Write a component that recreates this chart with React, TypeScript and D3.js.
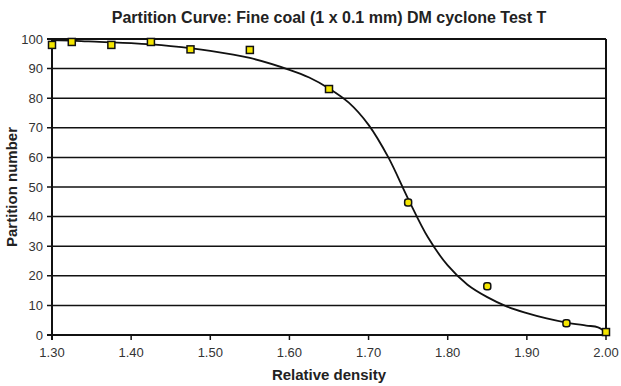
import React from "react";
import * as d3 from "d3";

const pointDensity = [1.30, 1.325, 1.375, 1.425, 1.475, 1.55, 1.65, 1.75, 1.85, 1.95, 2.00];
const pointPartition = [98, 99, 98, 99, 96.5, 96.3, 83.1, 44.8, 16.5, 4, 1];
const curveDensity = [1.30, 1.33, 1.36, 1.40, 1.45, 1.50, 1.55, 1.60, 1.625, 1.65, 1.675, 1.70, 1.725, 1.75, 1.775, 1.80, 1.825, 1.85, 1.875, 1.90, 1.925, 1.95, 1.975, 1.99, 2.00];
const curvePartition = [99.6, 99.4, 99.0, 98.6, 97.6, 96.0, 93.6, 89.6, 87.0, 83.3, 78.5, 71.0, 60.0, 46.0, 33.0, 23.5, 17.0, 12.8, 9.6, 7.4, 5.6, 4.2, 3.2, 2.6, 0.8];
const xTicks = [1.3, 1.4, 1.5, 1.6, 1.7, 1.8, 1.9, 2.0];
const yTicks = [0, 10, 20, 30, 40, 50, 60, 70, 80, 90, 100];

const W = 621, H = 386;
const L = 52, R = 606, T = 39, B = 335;
const FONT = "'Liberation Sans', Arial, sans-serif";

export default function App() {
  const x = d3.scaleLinear().domain([1.3, 2.0]).range([L, R]);
  const y = d3.scaleLinear().domain([0, 100]).range([B, T]);
  const line = d3.line<number>()
    .x((_, i) => x(curveDensity[i]))
    .y((d) => y(d))
    .curve(d3.curveCatmullRom.alpha(0.5));
  return (
    <svg width={W} height={H} style={{ position: "absolute", left: 0, top: 0, background: "#fff" }} fontFamily={FONT}>
      <rect width={W} height={H} fill="#fff" />
      <text x={(L + R) / 2} y={23} textAnchor="middle" fontWeight="bold" fontSize={16} fill="#222">
        Partition Curve: Fine coal (1 x 0.1 mm) DM cyclone Test T
      </text>
      {yTicks.map((t) => (
        <g key={t}>
          <line x1={L - 5} x2={R} y1={y(t)} y2={y(t)} stroke="#111" strokeWidth={t === 0 || t === 100 ? 2 : 1.5} />
          <text x={L - 9} y={y(t) + 4.5} textAnchor="end" fontSize={13} fill="#333">{t}</text>
        </g>
      ))}
      {xTicks.map((t) => (
        <g key={t}>
          <line x1={x(t)} x2={x(t)} y1={B} y2={B + 5} stroke="#111" strokeWidth={1.5} />
          <text x={x(t)} y={B + 22} textAnchor="middle" fontSize={13} fill="#333">{t.toFixed(2)}</text>
        </g>
      ))}
      <line x1={L} x2={L} y1={T} y2={B + 5} stroke="#111" strokeWidth={2} />
      <line x1={R} x2={R} y1={T} y2={B} stroke="#111" strokeWidth={2} />
      <path d={line(curvePartition) || ""} fill="none" stroke="#111" strokeWidth={1.8} />
      {pointPartition.map((p, i) => (
        <rect key={i} x={x(pointDensity[i]) - 3.5} y={y(p) - 3.5} width={7} height={7}
          fill="#f5e600" stroke="#111" strokeWidth={1.5} rx={i === 7 || i === 8 || i === 9 ? 2.5 : 0} />
      ))}
      <text x={(L + R) / 2} y={380} textAnchor="middle" fontWeight="bold" fontSize={15} fill="#222">Relative density</text>
      <text transform={`translate(17,${(T + B) / 2}) rotate(-90)`} textAnchor="middle" fontWeight="bold" fontSize={15} fill="#222">Partition number</text>
    </svg>
  );
}
